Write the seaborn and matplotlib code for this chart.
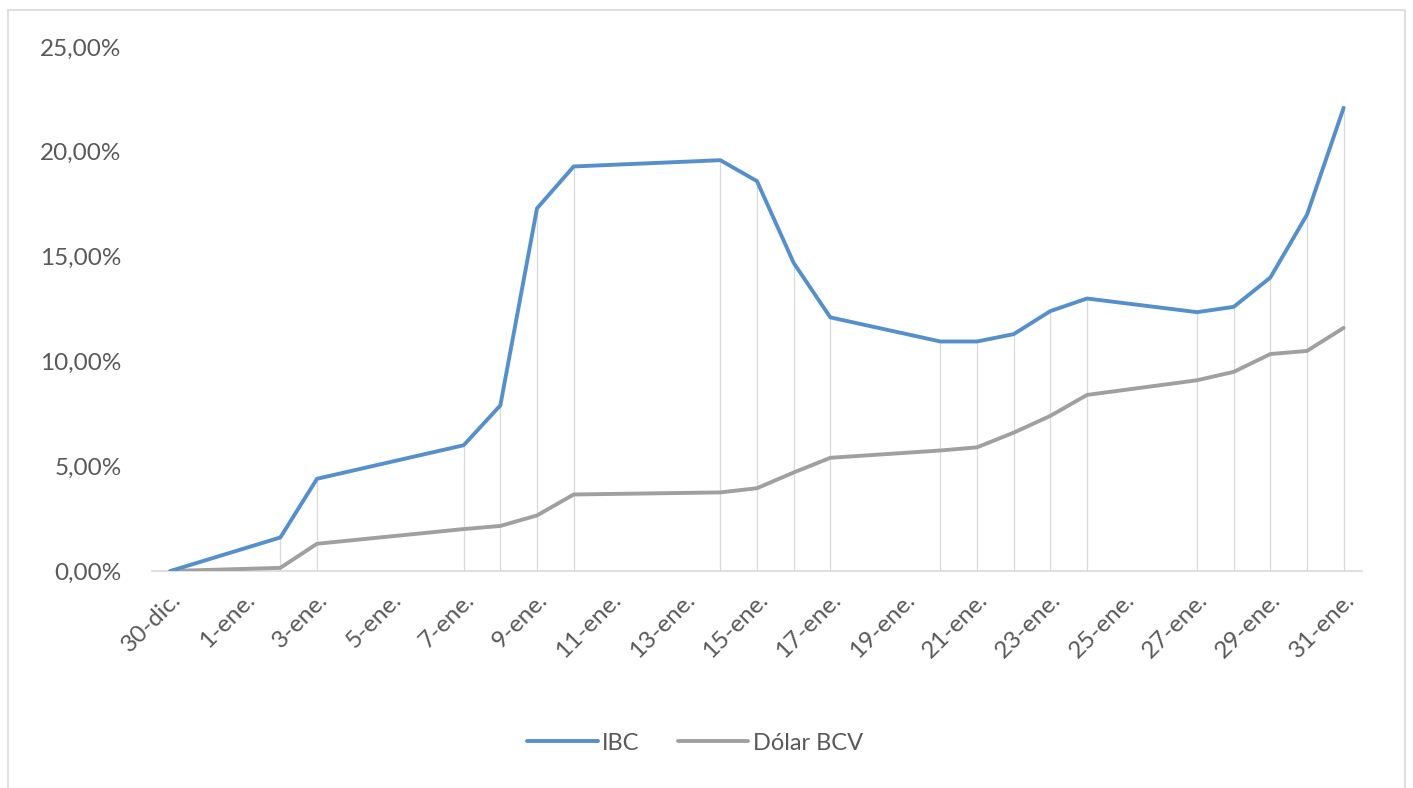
import pandas as pd
import seaborn as sns
import matplotlib.pyplot as plt
from matplotlib.patches import Rectangle
from matplotlib.ticker import FuncFormatter, FixedLocator
import numpy as np

# datos (variacion acumulada, %)
fechas = ["2019-12-30", "2020-01-02", "2020-01-03", "2020-01-07", "2020-01-08",
          "2020-01-09", "2020-01-10", "2020-01-14", "2020-01-15", "2020-01-16",
          "2020-01-17", "2020-01-20", "2020-01-21", "2020-01-22", "2020-01-23",
          "2020-01-24", "2020-01-27", "2020-01-28", "2020-01-29", "2020-01-30",
          "2020-01-31"]
ibc = [0.0, 1.6, 4.4, 6.0, 7.9, 17.3, 19.3, 19.6, 18.6, 14.7, 12.1,
       10.95, 10.95, 11.3, 12.4, 13.0, 12.35, 12.6, 14.0, 17.0, 22.1]
dolar_bcv = [0.0, 0.15, 1.3, 2.0, 2.15, 2.65, 3.65, 3.75, 3.95, 4.7, 5.4,
             5.75, 5.9, 6.6, 7.4, 8.4, 9.1, 9.5, 10.35, 10.5, 11.6]
etiquetas = ["30-dic.", "1-ene.", "3-ene.", "5-ene.", "7-ene.", "9-ene.",
             "11-ene.", "13-ene.", "15-ene.", "17-ene.", "19-ene.", "21-ene.",
             "23-ene.", "25-ene.", "27-ene.", "29-ene.", "31-ene."]

AZUL = "#5690CC"
GRIS = "#A0A0A0"
TEXTO = "#595959"

fechas = pd.to_datetime(fechas)
dias = (fechas - fechas[0]).days.to_numpy()
df = pd.DataFrame({"dia": dias, "IBC": ibc, "Dólar BCV": dolar_bcv})

sns.set_style("white")
plt.rcParams["font.family"] = ["Lato", "DejaVu Sans"]

fig = plt.figure(figsize=(14.13, 7.88), dpi=100)
ax = fig.add_axes([152 / 1413, 1 - 571 / 788, (1362 - 152) / 1413, (571 - 47) / 788])

# lineas de caida
ax.vlines(df["dia"], 0, df[["IBC", "Dólar BCV"]].max(axis=1),
          color="#d9d9d9", lw=0.9, zorder=1)

sns.lineplot(data=df, x="dia", y="Dólar BCV", color=GRIS, lw=2.8,
             label="Dólar BCV", legend=False, ax=ax, zorder=3)
sns.lineplot(data=df, x="dia", y="IBC", color=AZUL, lw=2.8,
             label="IBC", legend=False, ax=ax, zorder=4)
for ln in ax.get_lines():
    ln.set_solid_joinstyle("round")

ax.set_xlim(-0.5, 32.5)
ax.set_ylim(0, 25)
ax.set_yticks(np.arange(0, 26, 5))
ax.yaxis.set_major_formatter(FuncFormatter(lambda v, p: f"{v:.2f}".replace(".", ",") + "%"))
ax.set_xticks(np.arange(0, 33, 2))
ax.set_xticklabels(etiquetas, rotation=45, ha="right", va="top",
                   rotation_mode="anchor")
ax.xaxis.set_minor_locator(FixedLocator(np.arange(-0.5, 33, 2)))

ax.tick_params(axis="y", length=0, pad=22, labelsize=17.5, labelcolor=TEXTO)
ax.tick_params(axis="x", which="major", length=0, pad=13, labelsize=17.5,
               labelcolor=TEXTO)
ax.tick_params(axis="x", which="minor", length=6, width=1, color="#d9d9d9",
               direction="out")
ax.set_xlabel("")
ax.set_ylabel("")
for lado in ["top", "right", "left"]:
    ax.spines[lado].set_visible(False)
ax.spines["bottom"].set_color("#d9d9d9")
ax.spines["bottom"].set_linewidth(1.2)

handles, labels = ax.get_legend_handles_labels()
orden = [labels.index("IBC"), labels.index("Dólar BCV")]
fig.legend([handles[i] for i in orden], [labels[i] for i in orden],
           loc="center", bbox_to_anchor=(695 / 1413, 1 - 743 / 788), ncol=2,
           frameon=False, fontsize=17, labelcolor=TEXTO, handlelength=3.0,
           handletextpad=0.2, columnspacing=1.6)

# borde del area del grafico
fig.patches.append(Rectangle((8 / 1413, -0.01), (1405 - 8) / 1413, 1 - 10 / 788 + 0.01,
                             transform=fig.transFigure, fill=False,
                             edgecolor="#d9d9d9", lw=1.2))

fig.savefig("out.png", dpi=100)
